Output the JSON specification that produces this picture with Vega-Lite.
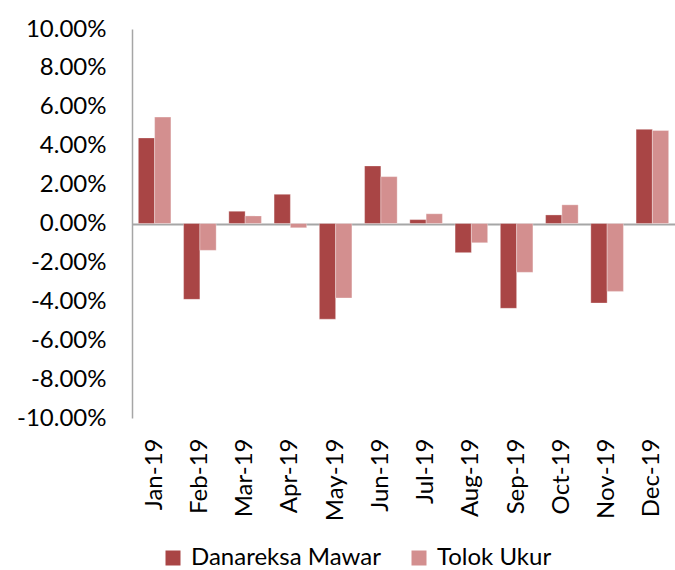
{
  "$schema": "https://vega.github.io/schema/vega-lite/v6.json",
  "autosize": "none",
  "width": 543,
  "height": 389,
  "padding": {"left": 132, "top": 29, "right": 0, "bottom": 152},
  "config": {
    "font": "Lato",
    "view": {"stroke": null},
    "axis": {"labelFont": "Lato", "labelColor": "#000000", "grid": false, "ticks": false, "labelOverlap": false, "title": null},
    "axisY": {"labelFontSize": 24, "labelPadding": 26, "domainColor": "#a6a6a6", "domainWidth": 1.5, "labelFlush": false, "labelOverlap": false},
    "axisX": {"domain": false, "labelAngle": -90, "labelAlign": "right", "labelBaseline": "middle", "labelPadding": 20, "labelFontSize": 24}
  },
  "data": {
    "values": [
      {"month": "Jan-19", "series": "Danareksa Mawar", "value": 0.0440},
      {"month": "Jan-19", "series": "Tolok Ukur", "value": 0.0547},
      {"month": "Feb-19", "series": "Danareksa Mawar", "value": -0.0390},
      {"month": "Feb-19", "series": "Tolok Ukur", "value": -0.0138},
      {"month": "Mar-19", "series": "Danareksa Mawar", "value": 0.0063},
      {"month": "Mar-19", "series": "Tolok Ukur", "value": 0.0039},
      {"month": "Apr-19", "series": "Danareksa Mawar", "value": 0.0150},
      {"month": "Apr-19", "series": "Tolok Ukur", "value": -0.0022},
      {"month": "May-19", "series": "Danareksa Mawar", "value": -0.0492},
      {"month": "May-19", "series": "Tolok Ukur", "value": -0.0383},
      {"month": "Jun-19", "series": "Danareksa Mawar", "value": 0.0296},
      {"month": "Jun-19", "series": "Tolok Ukur", "value": 0.0241},
      {"month": "Jul-19", "series": "Danareksa Mawar", "value": 0.0020},
      {"month": "Jul-19", "series": "Tolok Ukur", "value": 0.0050},
      {"month": "Aug-19", "series": "Danareksa Mawar", "value": -0.0150},
      {"month": "Aug-19", "series": "Tolok Ukur", "value": -0.0099},
      {"month": "Sep-19", "series": "Danareksa Mawar", "value": -0.0436},
      {"month": "Sep-19", "series": "Tolok Ukur", "value": -0.0251},
      {"month": "Oct-19", "series": "Danareksa Mawar", "value": 0.0044},
      {"month": "Oct-19", "series": "Tolok Ukur", "value": 0.0096},
      {"month": "Nov-19", "series": "Danareksa Mawar", "value": -0.0409},
      {"month": "Nov-19", "series": "Tolok Ukur", "value": -0.0349},
      {"month": "Dec-19", "series": "Danareksa Mawar", "value": 0.0484},
      {"month": "Dec-19", "series": "Tolok Ukur", "value": 0.0478}
    ]
  },
  "mark": {"type": "bar", "stroke": "#ffffff", "strokeOpacity": 0.4, "strokeWidth": 0.8},
  "encoding": {
    "x": {
      "field": "month", "type": "nominal", "sort": null,
      "scale": {"paddingInner": 0.28, "paddingOuter": 0.14},
      "axis": {"labelOverlap": false}
    },
    "xOffset": {"field": "series", "type": "nominal"},
    "y": {
      "field": "value", "type": "quantitative",
      "scale": {"domain": [-0.1, 0.1], "nice": false, "zero": false},
      "axis": {
        "format": ".2%",
        "labelExpr": "replace(datum.label, '\u2212', '-')",
        "values": [-0.1, -0.08, -0.06, -0.04, -0.02, 0, 0.02, 0.04, 0.06, 0.08, 0.1],
        "labelOverlap": false,
        "grid": true,
        "gridWidth": 2,
        "gridColor": {"condition": {"test": "abs(datum.value) < 0.0001", "value": "#a6a6a6"}, "value": "transparent"}
      }
    },
    "color": {
      "field": "series", "type": "nominal",
      "scale": {"domain": ["Danareksa Mawar", "Tolok Ukur"], "range": ["#a94545", "#d38f8f"]},
      "legend": {"title": null, "orient": "none", "direction": "horizontal", "legendX": 29, "legendY": 517, "symbolType": "square", "symbolSize": 225, "symbolStrokeWidth": 0, "labelFontSize": 24, "labelLimit": 400, "labelFont": "Lato", "labelColor": "#000000", "columnPadding": 26, "symbolOffset": 0, "labelOffset": 6}
    }
  }
}
